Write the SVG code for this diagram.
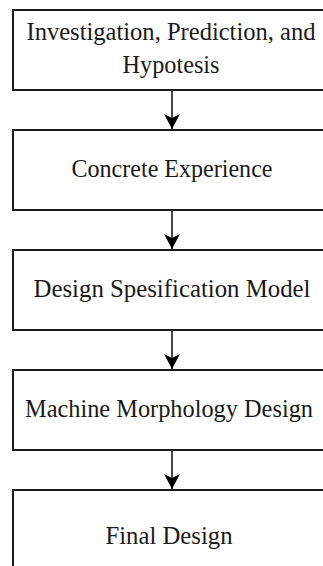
<svg xmlns="http://www.w3.org/2000/svg" width="323" height="566" viewBox="0 0 323 566">
<style>
.box{fill:#fff;stroke:#1a1a1a;stroke-width:2}
.lbl{font-family:"Liberation Serif","Times New Roman",serif;font-size:25px;fill:#1a1a1a;text-anchor:middle}
.edge{stroke:#1a1a1a;stroke-width:1.6;fill:none}
</style>
<defs>
<marker id="ah" markerUnits="userSpaceOnUse" markerWidth="16" markerHeight="18" refX="15" refY="8" orient="auto">
<path d="M0,0 L15,8 L0,16 L4,8 Z" fill="#000"/>
</marker>
</defs>
<rect width="323" height="566" fill="#fff"/>
<g id="connectors">
<line class="edge" x1="172" y1="90" x2="172" y2="129" marker-end="url(#ah)"/>
<line class="edge" x1="172" y1="210" x2="172" y2="249" marker-end="url(#ah)"/>
<line class="edge" x1="172" y1="330" x2="172" y2="369" marker-end="url(#ah)"/>
<line class="edge" x1="172" y1="450" x2="172" y2="489" marker-end="url(#ah)"/>
</g>
<g id="node1">
<rect class="box" x="13" y="10" width="318" height="80"/>
<text class="lbl" x="171" y="40" textLength="289" lengthAdjust="spacingAndGlyphs">Investigation, Prediction, and</text>
<text class="lbl" x="171" y="73" textLength="97" lengthAdjust="spacingAndGlyphs">Hypotesis</text>
</g>
<g id="node2">
<rect class="box" x="13" y="130" width="318" height="80"/>
<text class="lbl" x="172" y="177" textLength="201" lengthAdjust="spacingAndGlyphs">Concrete Experience</text>
</g>
<g id="node3">
<rect class="box" x="13" y="250" width="318" height="80"/>
<text class="lbl" x="172" y="297" textLength="277" lengthAdjust="spacingAndGlyphs">Design Spesification Model</text>
</g>
<g id="node4">
<rect class="box" x="13" y="370" width="318" height="80"/>
<text class="lbl" x="169" y="417" textLength="288" lengthAdjust="spacingAndGlyphs">Machine Morphology Design</text>
</g>
<g id="node5">
<rect class="box" x="13" y="490" width="318" height="100"/>
<text class="lbl" x="169" y="544" textLength="127" lengthAdjust="spacingAndGlyphs">Final Design</text>
</g>
</svg>
